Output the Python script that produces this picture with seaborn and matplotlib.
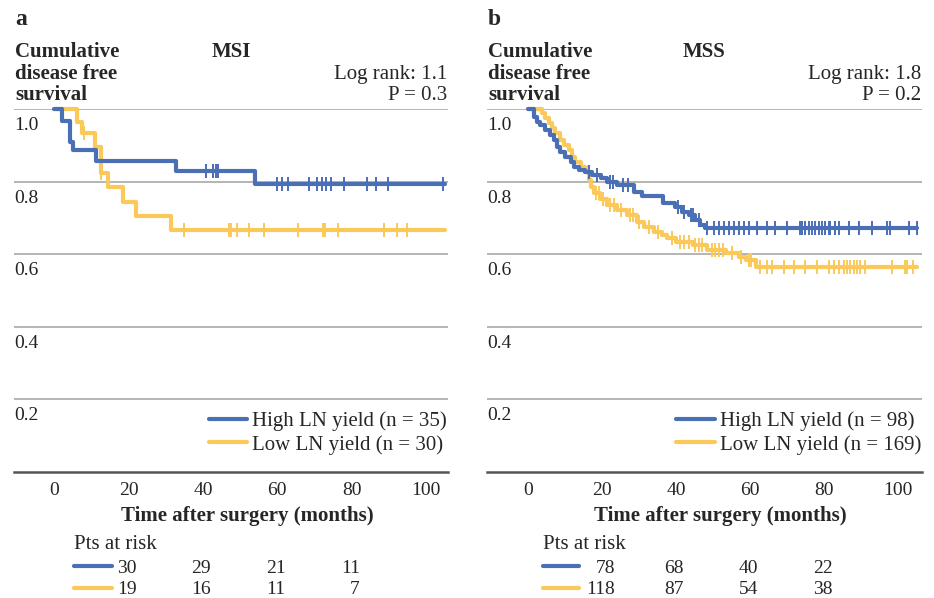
import numpy as np
import pandas as pd
import matplotlib.pyplot as plt
import matplotlib.transforms as mtransforms
import seaborn as sns

# --- data ------------------------------------------------------------------
# MSI panel
msi_high_t = [0, 2.0, 4.3, 5.0, 11.3, 32.6, 54.0, 105]
msi_high_s = [1.0, 0.967, 0.910, 0.887, 0.857, 0.828, 0.793, 0.793]
msi_high_cens = [40.7, 42.8, 43.4, 44.1, 59.9, 61.3, 62.8, 68.5, 70.7, 71.9,
                 73.2, 74.3, 77.8, 84.2, 86.5, 89.8, 104.5]

msi_low_t = [0, 6.1, 7.4, 11.0, 12.5, 14.4, 18.6, 21.9, 31.4, 105]
msi_low_s = [1.0, 0.963, 0.933, 0.896, 0.825, 0.786, 0.745, 0.705, 0.667, 0.667]
msi_low_cens = [7.9, 12.6, 34.9, 47.1, 47.5, 49.1, 52.5, 56.3, 65.6, 72.2,
                72.7, 76.3, 88.7, 92.1, 94.9]

# MSS panel
mss_high_t = [0, 1.4, 2.4, 3.2, 4.6, 5.9, 6.8, 7.8, 8.6, 10.0, 11.4, 12.2,
              13.6, 15.4, 17.2, 19.5, 21.3, 24.0, 28.5, 30.7, 36.4, 39.7,
              41.5, 43.3, 45.1, 46.5, 47.8, 105]
mss_high_s = [1.0, 0.979, 0.965, 0.956, 0.942, 0.928, 0.915, 0.896, 0.882,
              0.869, 0.855, 0.841, 0.832, 0.827, 0.818, 0.811, 0.800, 0.791,
              0.772, 0.760, 0.740, 0.731, 0.717, 0.708, 0.694, 0.681, 0.673,
              0.673]
mss_high_cens = [16.5, 18.5, 22.0, 22.8, 25.5, 27.0, 40.5, 42.0, 44.0, 44.6,
                 46.0, 48.3, 50.1, 51.4, 52.8, 54.1, 55.5, 56.8, 58.2, 59.5,
                 61.8, 64.5, 66.7, 69.9, 73.5, 73.9, 74.9, 75.8, 76.7, 77.6,
                 78.5, 79.4, 80.2, 81.2, 81.6, 83.0, 83.9, 86.6, 89.3, 92.9,
                 96.9, 97.8, 102.8, 105.0]

mss_low_t = [0, 3.7, 4.6, 5.5, 6.4, 7.3, 8.6, 9.5, 10.9, 11.8, 12.7, 14.1,
             15.4, 16.3, 16.8, 17.7, 19.3, 21.3, 24.0, 26.7, 29.4, 31.2,
             33.9, 36.1, 37.5, 40.0, 44.5, 48.3, 53.5, 56.8, 58.8, 61.4, 105]
mss_low_s = [1.0, 0.988, 0.974, 0.961, 0.947, 0.933, 0.915, 0.901, 0.887,
             0.869, 0.855, 0.841, 0.827, 0.804, 0.786, 0.768, 0.752, 0.736,
             0.722, 0.708, 0.690, 0.676, 0.662, 0.653, 0.644, 0.634, 0.625,
             0.612, 0.602, 0.593, 0.584, 0.566, 0.566]
mss_low_cens = [16.0, 18.2, 19.0, 20.2, 22.0, 23.0, 25.0, 27.5, 28.2, 30.0,
                32.5, 35.0, 38.8, 41.0, 42.0, 43.5, 45.0, 46.0, 47.0, 49.5,
                50.5, 51.5, 52.5, 55.0, 57.5, 59.5, 60.3, 62.7, 64.5, 65.8,
                69.0, 71.7, 74.9, 78.0, 81.2, 82.5, 83.9, 85.2, 86.1, 87.0,
                87.9, 88.8, 89.7, 91.1, 98.3, 101.9, 102.3, 104.1]

risk_times = [20, 40, 60, 80]
msi_risk_high = [30, 29, 21, 11]
msi_risk_low = [19, 16, 11, 7]
mss_risk_high = [78, 68, 40, 22]
mss_risk_low = [118, 87, 54, 38]

y_ticks = [0.2, 0.4, 0.6, 0.8, 1.0]
x_ticks = [0, 20, 40, 60, 80, 100]

BLUE = "#4a6fb5"
YELLOW = "#fac95a"

W, H = 934, 598

sns.set_style("white")
plt.rcParams["font.family"] = ["Liberation Serif", "DejaVu Serif"]

fig = plt.figure(figsize=(W / 100, H / 100), dpi=100)


def fx(px):
    return px / W


def fy(py):
    return 1 - py / H


def curve_df(t, s):
    return pd.DataFrame({"time": t, "surv": s})


def cens_df(t, s, cens):
    t = np.asarray(t)
    s = np.asarray(s)
    idx = np.searchsorted(t, cens, side="right") - 1
    return pd.DataFrame({"time": cens, "surv": s[idx]})


def draw_panel(ax, curves, xlim):
    ax.set_xlim(*xlim)
    ax.set_ylim(0, 1.0)
    for v in y_ticks:
        ax.axhline(v, color="#a8a8a8", lw=1.2, zorder=0)
    # yellow first so blue sits on top
    for t, s, cens, color, label in curves[::-1]:
        sns.lineplot(data=curve_df(t, s), x="time", y="surv", ax=ax,
                     drawstyle="steps-post", color=color, lw=3.0,
                     estimator=None, sort=False, label=label, clip_on=False)
        cd = cens_df(t, s, cens)
        ax.plot(cd["time"], cd["surv"], ls="none", marker="|", ms=9.5,
                mew=1.4, color=color, clip_on=False)
    for sp in ["top", "right", "left"]:
        ax.spines[sp].set_visible(False)
    ax.spines["bottom"].set_color("#555555")
    ax.spines["bottom"].set_linewidth(1.8)
    ax.set_xticks(x_ticks)
    ax.set_xticklabels([str(v) for v in x_ticks])
    ax.tick_params(axis="x", direction="in", length=8, width=1.4,
                   color="#555555", labelsize=14, pad=7)
    ax.set_yticks([])
    ax.set_xlabel("")
    ax.set_ylabel("")
    off = mtransforms.offset_copy(ax.get_yaxis_transform(), fig=fig,
                                  y=-16.5, units="dots")
    for v in y_ticks:
        ax.text(0.0, v, f"{v:.1f}", transform=off, ha="left", va="center",
                fontsize=14, color="#222222")
    handles, labels = ax.get_legend_handles_labels()
    ax.legend(handles[::-1], labels[::-1], loc="lower right",
              bbox_to_anchor=(0.998, 0.048), frameon=False, fontsize=15,
              handlelength=1.85, handletextpad=0.25, labelspacing=0.18,
              borderpad=0, borderaxespad=0)


panels = [
    dict(left=14, right=448, xlim=(-10.85, 105.9), letter="a", letter_x=15,
         title="MSI", title_x=231, logrank="Log rank: 1.1", p="P = 0.3",
         curves=[(msi_high_t, msi_high_s, msi_high_cens, BLUE,
                  "High LN yield (n = 35)"),
                 (msi_low_t, msi_low_s, msi_low_cens, YELLOW,
                  "Low LN yield (n = 30)")],
         risk=(msi_risk_high, msi_risk_low),
         key_span=(5.3, 15.5), num_shift=[2.2, 2.2, 2.2, 2.2]),
    dict(left=487, right=922, xlim=(-11.2, 106.4), letter="b", letter_x=488,
         title="MSS", title_x=704, logrank="Log rank: 1.8", p="P = 0.2",
         curves=[(mss_high_t, mss_high_s, mss_high_cens, BLUE,
                  "High LN yield (n = 98)"),
                 (mss_low_t, mss_low_s, mss_low_cens, YELLOW,
                  "Low LN yield (n = 169)")],
         risk=(mss_risk_high, mss_risk_low),
         key_span=(3.9, 13.8), num_shift=[3.4, 2.0, 2.2, 2.3]),
]

for p in panels:
    ax = fig.add_axes([fx(p["left"]), fy(472), fx(p["right"] - p["left"]),
                       (472 - 109) / H])
    draw_panel(ax, p["curves"], p["xlim"])

    fig.text(fx(p["letter_x"]), fy(25), p["letter"], fontsize=17,
             fontweight="bold", va="baseline")
    for txt, base in zip(["Cumulative", "disease free", "survival"],
                         [57, 79, 100]):
        fig.text(fx(p["letter_x"]), fy(base), txt, fontsize=15,
                 fontweight="bold", va="baseline")
    fig.text(fx(p["title_x"]), fy(57), p["title"], fontsize=15,
             fontweight="bold", va="baseline", ha="center")
    fig.text(fx(p["right"] - 1), fy(79), p["logrank"], fontsize=15,
             va="baseline", ha="right")
    fig.text(fx(p["right"] - 1), fy(100), p["p"], fontsize=15,
             va="baseline", ha="right")

    ax.text(0.537, (472 - 521) / 363, "Time after surgery (months)",
            transform=ax.transAxes, fontsize=15, fontweight="bold",
            ha="center", va="baseline")

    # numbers at risk
    tr = mtransforms.blended_transform_factory(ax.transData, fig.transFigure)
    k0, k1 = p["key_span"]
    ax.text(k0, fy(549), "Pts at risk", transform=tr, fontsize=15,
            va="baseline", clip_on=False)
    for row, color, base, line_y in zip(p["risk"], [BLUE, YELLOW],
                                        [573, 594], [566, 587.5]):
        ax.plot([k0, k1], [fy(line_y), fy(line_y)], transform=tr,
                color=color, lw=3.0, clip_on=False)
        for t, n, dx in zip(risk_times, row, p["num_shift"]):
            ax.text(t + dx, fy(base), str(n), transform=tr, fontsize=14,
                    ha="right", va="baseline", clip_on=False)

fig.savefig("out.png", dpi=100)
